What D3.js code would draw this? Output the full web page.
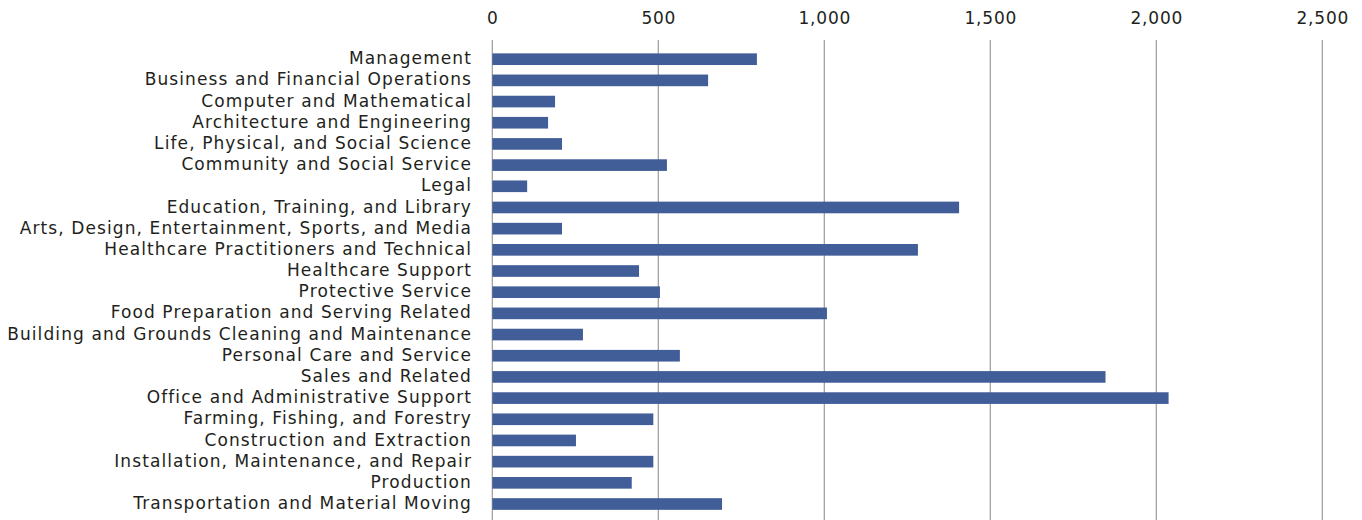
<!DOCTYPE html>
<html>
<head>
<meta charset="utf-8">
<script src="https://cdn.jsdelivr.net/npm/d3@7"></script>
<style>
  html, body { margin: 0; padding: 0; background: #fff; }
  svg { display: block; }
  text { font-family: "DejaVu Sans", sans-serif; fill: #231f20; }
</style>
</head>
<body>
<svg id="chart" width="1362" height="520"></svg>
<script>
// Employment by major occupational group (thousands)
const categories = [
  "Management",
  "Business and Financial Operations",
  "Computer and Mathematical",
  "Architecture and Engineering",
  "Life, Physical, and Social Science",
  "Community and Social Service",
  "Legal",
  "Education, Training, and Library",
  "Arts, Design, Entertainment, Sports, and Media",
  "Healthcare Practitioners and Technical",
  "Healthcare Support",
  "Protective Service",
  "Food Preparation and Serving Related",
  "Building and Grounds Cleaning and Maintenance",
  "Personal Care and Service",
  "Sales and Related",
  "Office and Administrative Support",
  "Farming, Fishing, and Forestry",
  "Construction and Extraction",
  "Installation, Maintenance, and Repair",
  "Production",
  "Transportation and Material Moving"
];
const values = [797, 650, 189, 168, 210, 526, 105, 1406, 210, 1282, 442, 505, 1008, 273, 565, 1847, 2037, 485, 252, 485, 420, 692];
const tickValues = [0, 500, 1000, 1500, 2000, 2500];

const svg = d3.select("#chart");
const left = 492.3, right = 1322.3;
const gridTop = 40, gridBottom = 520;

const x = d3.scaleLinear().domain([0, 2500]).range([left, right]);
const y = d3.scaleBand().domain(categories).range([48.6, 514.6]).paddingInner(0.45).paddingOuter(0.225);

// vertical gridlines
svg.append("g")
  .selectAll("line")
  .data(tickValues)
  .join("line")
  .attr("x1", d => x(d)).attr("x2", d => x(d))
  .attr("y1", gridTop).attr("y2", gridBottom)
  .attr("stroke", "#9a9a9a")
  .attr("stroke-width", 1.2);

// top axis labels
const axis = d3.axisTop(x).tickValues(tickValues).tickFormat(d3.format(",")).tickSize(0).tickPadding(0);
const ga = svg.append("g").attr("transform", "translate(0,24)").call(axis);
ga.select(".domain").remove();
ga.selectAll("text")
  .attr("font-size", 17)
  .attr("fill", "#231f20")
  .style("letter-spacing", "0.8px")
  .style("font-family", "DejaVu Sans, sans-serif");

// bars
svg.append("g")
  .selectAll("rect")
  .data(categories)
  .join("rect")
  .attr("x", x(0))
  .attr("y", d => y(d))
  .attr("width", (d, i) => x(values[i]) - x(0))
  .attr("height", y.bandwidth())
  .attr("fill", "#425e98");

// category labels
svg.append("g")
  .selectAll("text")
  .data(categories)
  .join("text")
  .attr("x", 472)
  .attr("y", d => y(d) + y.bandwidth() / 2)
  .attr("dy", "0.3em")
  .attr("text-anchor", "end")
  .attr("font-size", 17)
  .style("letter-spacing", "1.1px")
  .text(d => d);
</script>
</body>
</html>
